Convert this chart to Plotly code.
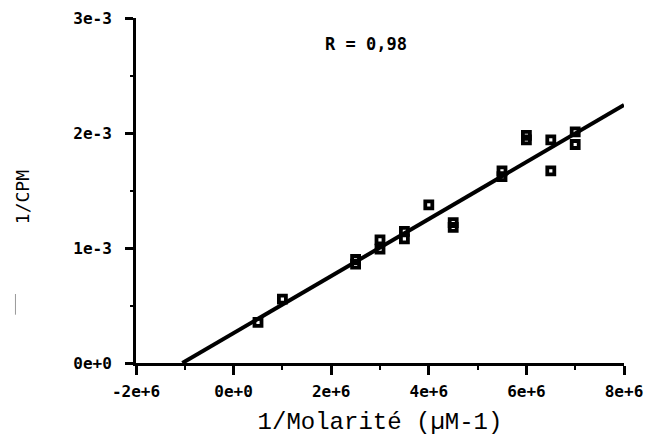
import plotly.graph_objects as go

# Data
x_vals = [0.5e6, 1.0e6, 2.5e6, 2.5e6, 3.0e6, 3.0e6, 3.5e6, 3.5e6, 4.0e6, 4.5e6,
          4.5e6, 5.5e6, 5.5e6, 6.0e6, 6.0e6, 6.5e6, 6.5e6, 7.0e6, 7.0e6]
y_vals = [0.354e-3, 0.556e-3, 0.90e-3, 0.86e-3, 1.07e-3, 0.99e-3, 1.145e-3, 1.08e-3,
          1.375e-3, 1.22e-3, 1.18e-3, 1.67e-3, 1.62e-3, 1.98e-3, 1.94e-3, 1.94e-3,
          1.67e-3, 2.01e-3, 1.90e-3]

# Regression line end points
fit_x = [-1.05e6, 8.0e6]
fit_y = [0.0, 2.243e-3]

x_tickvals = [-2e6, 0, 2e6, 4e6, 6e6, 8e6]
x_ticktext = ["-2e+6", "0e+0", "2e+6", "4e+6", "6e+6", "8e+6"]
y_tickvals = [0, 1e-3, 2e-3, 3e-3]
y_ticktext = ["0e+0", "1e-3", "2e-3", "3e-3"]

annotation_text = "R = 0,98"
annotation_pos = (2.71e6, 2.77e-3)

tick_font = dict(family="DejaVu Sans Mono", size=16, color="black", weight="bold")

fig = go.Figure()
fig.add_trace(go.Scatter(x=fit_x, y=fit_y, mode="lines",
                         line=dict(color="black", width=4),
                         showlegend=False, cliponaxis=False))
fig.add_trace(go.Scatter(x=x_vals, y=y_vals, mode="markers",
                         marker=dict(symbol="square-open", size=7, color="black",
                                     line=dict(color="black", width=3.8)),
                         showlegend=False, cliponaxis=False))

fig.add_annotation(x=annotation_pos[0], y=annotation_pos[1], text=annotation_text,
                   showarrow=False, font=dict(tick_font, size=17),
                   xanchor="center", yanchor="middle")

# Y-axis title
fig.add_annotation(xref="paper", yref="paper", x=-0.232, y=0.48, text="1/CPM",
                   textangle=-90, showarrow=False, xanchor="center", yanchor="middle",
                   font=dict(family="DejaVu Sans Mono", size=18, color="black", weight="normal"))

# faint scan artifact on the left
fig.add_shape(type="line", xref="paper", yref="paper",
              x0=-0.247, x1=-0.247, y0=0.14, y1=0.2,
              line=dict(color="#999999", width=1))

fig.update_layout(
    width=661, height=446,
    margin=dict(l=127.5, r=44.5, t=10, b=91.3, autoexpand=False),
    paper_bgcolor="white", plot_bgcolor="white",
    font=tick_font,
    xaxis=dict(range=[-2e6, 8e6], tickvals=x_tickvals, ticktext=x_ticktext,
               automargin=False, ticklabeloverflow="allow", ticklabelposition="outside",
               showgrid=False, zeroline=False, showline=True, linecolor="black",
               linewidth=3, ticks="outside", ticklen=9, tickwidth=2.5, tickcolor="black",
               tickfont=tick_font, ticklabelstandoff=3,
               minor=dict(dtick=1e6, tick0=0, ticks="outside", ticklen=4,
                          tickwidth=2, tickcolor="black", showgrid=False),
               title=dict(text="1/Molarité (µM-1)",
                          font=dict(family="Liberation Mono", size=24, color="black",
                                    weight="normal"),
                          standoff=12)),
    yaxis=dict(range=[0, 3e-3], tickvals=y_tickvals, ticktext=y_ticktext,
               automargin=False, ticklabeloverflow="allow", ticklabelposition="outside",
               showgrid=False, zeroline=False, showline=True, linecolor="black",
               linewidth=3, ticks="outside", ticklen=8, tickwidth=2.5, tickcolor="black",
               tickfont=tick_font, ticklabelstandoff=10,
               minor=dict(dtick=0.5e-3, tick0=0, ticks="outside", ticklen=3,
                          tickwidth=2, tickcolor="black", showgrid=False)),
)

fig.write_html("out.html")
